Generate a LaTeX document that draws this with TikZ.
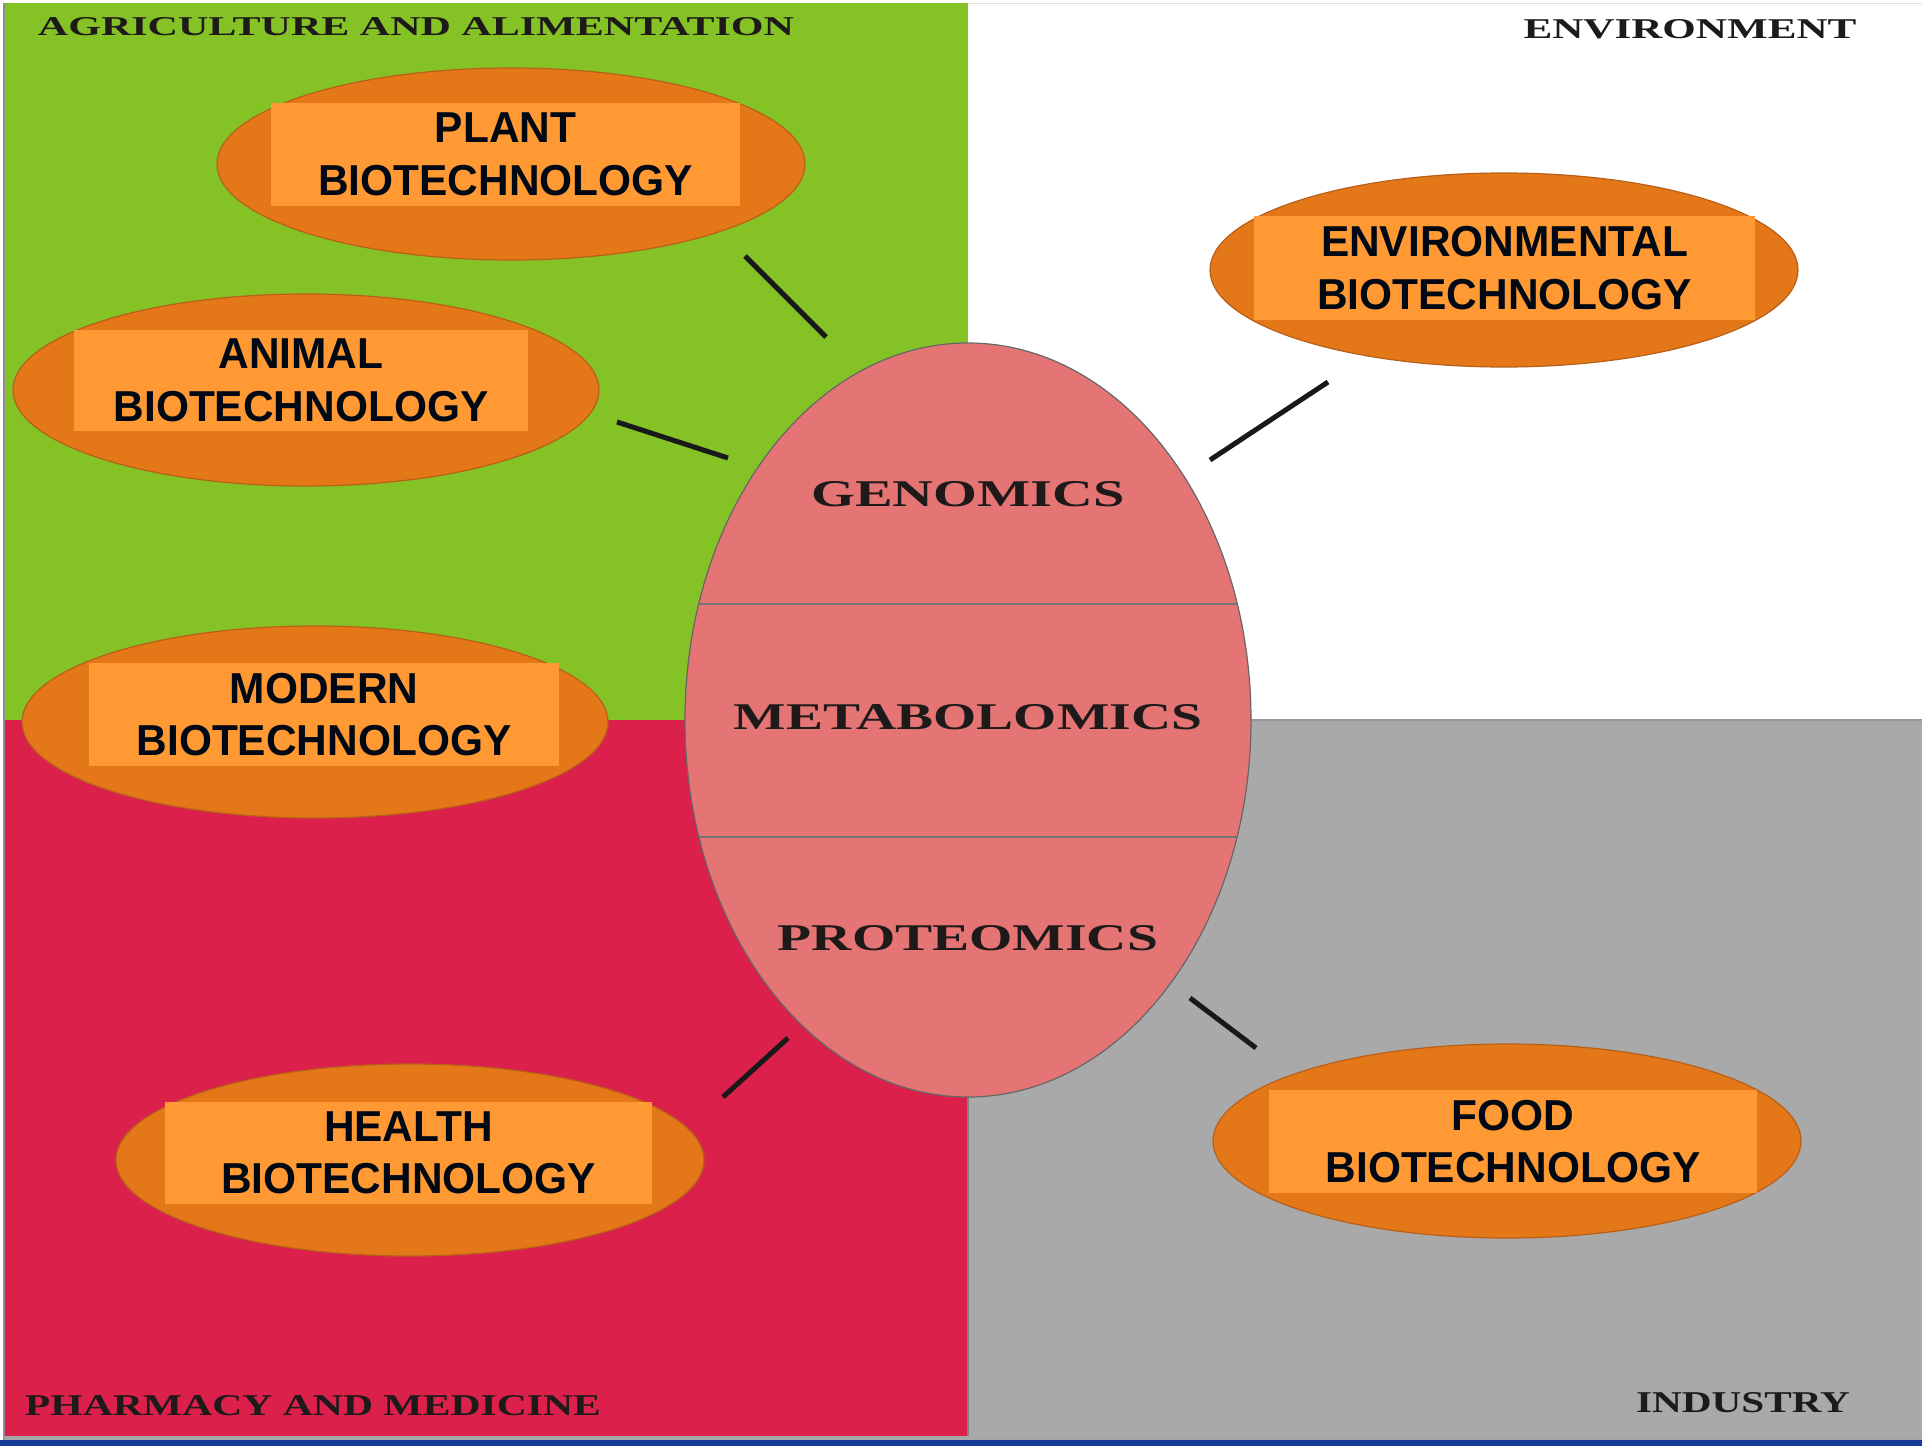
\documentclass[tikz,border=0pt]{standalone}
\usepackage{fontspec}
\usepackage{graphicx}
\setmainfont{Liberation Serif}
\newfontfamily\boxfont[FakeStretch=0.98]{Liberation Sans Bold}
\usetikzlibrary{shapes.geometric}
\definecolor{agri}{HTML}{84C226}
\definecolor{pharm}{HTML}{DB204B}
\definecolor{indus}{HTML}{A9A9A9}
\definecolor{omicfill}{HTML}{E57575}
\definecolor{ellorange}{HTML}{E47718}
\definecolor{ellborder}{HTML}{B8601A}
\definecolor{boxorange}{HTML}{FE9933}
\definecolor{txtdark}{HTML}{000814}
\definecolor{labeldark}{HTML}{1E1A1A}
\definecolor{bottomblue}{HTML}{143C96}
\newcommand{\fitlbl}[3]{\resizebox{#1pt}{#2pt}{#3}}
\tikzset{
  biotech/.style={ellipse, draw=ellborder, line width=1.2pt, fill=ellorange, inner sep=0pt},
  tagbox/.style={rectangle, fill=boxorange, inner sep=0pt, text=txtdark, align=center,
    font=\boxfont\fontsize{43.3}{52.5}\selectfont},
  arealabel/.style={inner sep=0pt, text=labeldark},
  omiclabel/.style={inner sep=0pt, text=labeldark},
  link/.style={line width=5pt, color=black!90}
}
\begin{document}
\begin{tikzpicture}[x=1pt,y=-1pt]
\useasboundingbox (0,0) rectangle (1922,1446);
\fill[white] (0,0) rectangle (1922,1446);
% quadrants
\fill[agri] (4,3) rectangle (968,720);
\fill[white] (968,3) rectangle (1922,720);
\fill[pharm] (4,720) rectangle (968,1440);
\fill[indus] (968,720) rectangle (1922,1440);
\draw[black!12, line width=1pt] (968,3) -- (1922,3);
\draw[black!45, line width=1.5pt] (4,3) -- (4,1440);
\draw[black!40, line width=1.5pt] (968,720) -- (1922,720);
\draw[black!50, line width=1.2pt] (968,720) -- (968,1440);
\fill[black!35] (4,1436) rectangle (1922,1440);
\fill[bottomblue] (0,1440) rectangle (1922,1446);
% area labels
\node[arealabel] (lagri) at (416,27) {\fitlbl{756}{18}{\bfseries AGRICULTURE AND ALIMENTATION}};
\node[arealabel] (lenv) at (1690,29.5) {\fitlbl{333}{19}{\bfseries ENVIRONMENT}};
\node[arealabel] (lpharm) at (313,1406) {\fitlbl{576}{20}{\bfseries PHARMACY AND MEDICINE}};
\node[arealabel] (lind) at (1743,1403) {\fitlbl{214}{20}{\bfseries INDUSTRY}};
% central ellipse
\node[ellipse, fill=omicfill, draw=black!60, line width=1.2pt, minimum width=566pt, minimum height=754pt, inner sep=0pt] (omics) at (968,720) {};
\begin{scope}
  \clip (968,720) ellipse [x radius=283, y radius=377];
  \draw[black!55, line width=1.2pt] (600,604) -- (1340,604);
  \draw[black!55, line width=1.2pt] (600,837) -- (1340,837);
\end{scope}
\node[omiclabel] (genomics) at (968,494) {\fitlbl{313}{25}{\bfseries GENOMICS}};
\node[omiclabel] (metabolomics) at (968,717) {\fitlbl{468}{25}{\bfseries METABOLOMICS}};
\node[omiclabel] (proteomics) at (968,938) {\fitlbl{380}{25}{\bfseries PROTEOMICS}};
% connectors
\coordinate (p1) at (745,256); \coordinate (p2) at (826,337);
\coordinate (a1) at (617,422); \coordinate (a2) at (728,458);
\coordinate (e1) at (1328,382); \coordinate (e2) at (1210,460);
\coordinate (h1) at (788,1038); \coordinate (h2) at (723,1097);
\coordinate (f1) at (1190,998); \coordinate (f2) at (1256,1048);
\draw[link] (p1) -- (p2);
\draw[link] (a1) -- (a2);
\draw[link] (e1) -- (e2);
\draw[link] (h1) -- (h2);
\draw[link] (f1) -- (f2);
% biotech ellipses
\node[biotech, minimum width=588pt, minimum height=192pt] (plantE) at (511,164) {};
\node[biotech, minimum width=586pt, minimum height=192pt] (animalE) at (306,390) {};
\node[biotech, minimum width=586pt, minimum height=192pt] (modernE) at (315,722) {};
\node[biotech, minimum width=588pt, minimum height=192pt] (healthE) at (410,1160) {};
\node[biotech, minimum width=588pt, minimum height=194pt] (envE) at (1504,270) {};
\node[biotech, minimum width=588pt, minimum height=194pt] (foodE) at (1507,1141) {};
% boxes
\node[tagbox, minimum width=469pt, minimum height=103pt] (plant) at (505.5,154.5) {PLANT\\BIOTECHNOLOGY};
\node[tagbox, minimum width=454pt, minimum height=101pt] (animal) at (301,380.5) {ANIMAL\\BIOTECHNOLOGY};
\node[tagbox, minimum width=470pt, minimum height=103pt] (modern) at (324,714.5) {MODERN\\BIOTECHNOLOGY};
\node[tagbox, minimum width=487pt, minimum height=102pt] (health) at (408.5,1153) {HEALTH\\BIOTECHNOLOGY};
\node[tagbox, minimum width=501pt, minimum height=104pt] (env) at (1504.5,268) {ENVIRONMENTAL\\BIOTECHNOLOGY};
\node[tagbox, minimum width=488pt, minimum height=103pt] (food) at (1513,1141.5) {FOOD\\BIOTECHNOLOGY};
\end{tikzpicture}
\end{document}
